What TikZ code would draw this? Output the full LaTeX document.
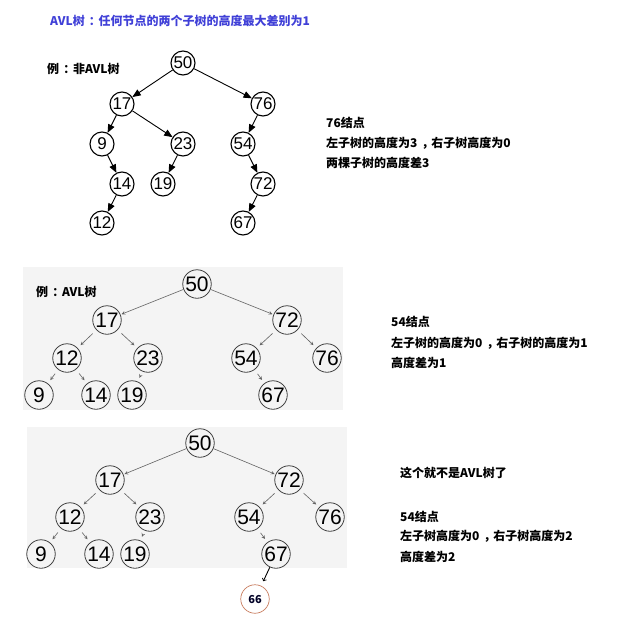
\documentclass[tikz,border=0pt]{standalone}
\usepackage{fontspec}
\newfontfamily\cjk{Noto Sans CJK SC}
\newfontfamily\arial{Liberation Sans}
\usetikzlibrary{shapes,arrows}
\definecolor{titleblue}{RGB}{64,64,215}
\definecolor{newnode}{RGB}{200,125,95}
\definecolor{bggray}{RGB}{244,244,244}
\newcommand{\fwcolon}{\hspace{.35em}：\hspace{-.2em}}
\newcommand{\fwcomma}{\hspace{.35em}，\hspace{-.2em}}

\begin{document}
\begin{tikzpicture}[x=1pt, y=-1pt, >=triangle 45,
  bignode/.style={circle, draw, line width=1.1pt, minimum size=24pt, inner sep=0pt, font=\arial\fontsize{17}{17}\selectfont},
  avlnode/.style={circle, draw=black!75, line width=0.8pt, minimum size=28.5pt, inner sep=0pt, font=\arial\fontsize{21}{21}\selectfont},
  bigedge/.style={->, line width=0.9pt},
  avledge/.style={-stealth, draw=black!62, line width=0.6pt, shorten >=1pt},
  avlshort/.style={avledge, shorten <=5pt, shorten >=4pt},
  note/.style={anchor=base west, inner sep=0pt, font=\cjk\bfseries\fontsize{12}{12}\selectfont}]

\useasboundingbox (0,0) rectangle (628,637);
				\node [note, text=titleblue] (title) at (50,25) {AVL树\fwcolon 任何节点的两个子树的高度最大差别为1};

				% not an AVL tree
				\node [note] (ex1) at (47,73) {例\fwcolon 非AVL树};
				\node [bignode] (a50) at (183,63) {50};
				\node [bignode] (a17) at (122,104) {17};
				\node [bignode] (a76) at (263,104) {76};
				\node [bignode] (a9) at (102,144) {9};
				\node [bignode] (a23) at (183,144) {23};
				\node [bignode] (a54) at (243,144) {54};
				\node [bignode] (a14) at (122,184) {14};
				\node [bignode] (a19) at (163,184) {19};
				\node [bignode] (a72) at (263,184) {72};
				\node [bignode] (a12) at (102,223) {12};
				\node [bignode] (a67) at (243,223) {67};
				\draw [bigedge] (a50) -- (a17);
				\draw [bigedge] (a50) -- (a76);
				\draw [bigedge] (a17) -- (a9);
				\draw [bigedge] (a17) -- (a23);
				\draw [bigedge] (a76) -- (a54);
				\draw [bigedge] (a9) -- (a14);
				\draw [bigedge] (a23) -- (a19);
				\draw [bigedge] (a54) -- (a72);
				\draw [bigedge] (a14) -- (a12);
				\draw [bigedge] (a72) -- (a67);
				\node [note] (t1) at (326,127.5) {76结点};
				\node [note] (t2) at (326,147.5) {左子树的高度为3\fwcomma 右子树高度为0};
				\node [note] (t3) at (326,167.5) {两棵子树的高度差3};

				% AVL tree
				\fill [bggray] (23,267) rectangle (343,410);
				\node [note] (ex2) at (36,296.5) {例\fwcolon AVL树};
				\node [avlnode] (b50) at (197,284) {50};
				\node [avlnode] (b17) at (107,320) {17};
				\node [avlnode] (b72) at (287,320) {72};
				\node [avlnode] (b12) at (67,358) {12};
				\node [avlnode] (b23) at (148,358) {23};
				\node [avlnode] (b54) at (246,358) {54};
				\node [avlnode] (b76) at (327,358) {76};
				\node [avlnode] (b9) at (39,395) {9};
				\node [avlnode] (b14) at (96,395) {14};
				\node [avlnode] (b19) at (132,395) {19};
				\node [avlnode] (b67) at (273,395) {67};
				\draw [avledge] (b50) -- (b17);
				\draw [avledge] (b50) -- (b72);
				\draw [avlshort] (b17) -- (b12);
				\draw [avlshort] (b17) -- (b23);
				\draw [avlshort] (b72) -- (b54);
				\draw [avlshort] (b72) -- (b76);
				\draw [avlshort] (b12) -- (b9);
				\draw [avlshort] (b12) -- (b14);
				\draw [avlshort] (b23) -- (b19);
				\draw [avlshort] (b54) -- (b67);
				\node [note] (u1) at (391,326.5) {54结点};
				\node [note] (u2) at (391,347.5) {左子树的高度为0\fwcomma 右子树的高度为1};
				\node [note] (u3) at (391,367.5) {高度差为1};

				% after inserting 66
				\fill [bggray] (27,427) rectangle (347,568);
				\node [avlnode] (c50) at (200,443) {50};
				\node [avlnode] (c17) at (110,480) {17};
				\node [avlnode] (c72) at (289,480) {72};
				\node [avlnode] (c12) at (70,517) {12};
				\node [avlnode] (c23) at (150,517) {23};
				\node [avlnode] (c54) at (249,517) {54};
				\node [avlnode] (c76) at (330,517) {76};
				\node [avlnode] (c9) at (41,554) {9};
				\node [avlnode] (c14) at (99,554) {14};
				\node [avlnode] (c19) at (135,554) {19};
				\node [avlnode] (c67) at (276,554) {67};
				\node [circle, draw=newnode, line width=0.7pt, minimum size=28.5pt, inner sep=0pt, text=black!85!blue, font=\cjk\bfseries\fontsize{11}{11}\selectfont] (c66) at (255,599) {66};
				\draw [avledge] (c50) -- (c17);
				\draw [avledge] (c50) -- (c72);
				\draw [avlshort] (c17) -- (c12);
				\draw [avlshort] (c17) -- (c23);
				\draw [avlshort] (c72) -- (c54);
				\draw [avlshort] (c72) -- (c76);
				\draw [avlshort] (c12) -- (c9);
				\draw [avlshort] (c12) -- (c14);
				\draw [avlshort] (c23) -- (c19);
				\draw [avlshort] (c54) -- (c67);
				\draw [->, >=to, line width=0.9pt, shorten >=5pt] (c67) -- (c66);
				\node [note] (v1) at (400,477.5) {这个就不是AVL树了};
				\node [note] (v2) at (400,521.5) {54结点};
				\node [note] (v3) at (400,540.5) {左子树高度为0\fwcomma 右子树高度为2};
				\node [note] (v4) at (400,561.5) {高度差为2};

\end{tikzpicture}
\end{document}
